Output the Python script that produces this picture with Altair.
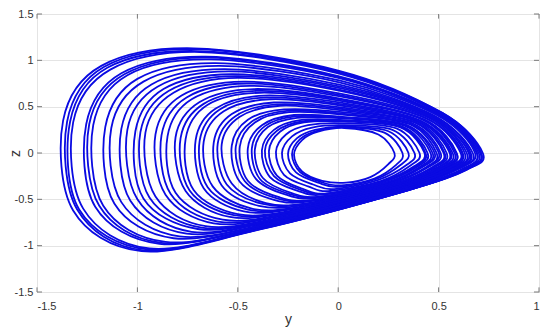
import altair as alt
import pandas as pd

# Axis tick values (y horizontal, z vertical)
Y_TICKS = [-1.5, -1, -0.5, 0, 0.5, 1]
Z_TICKS = [-1.5, -1, -0.5, 0, 0.5, 1, 1.5]

# Trajectory loops, each as (y, z) points going
# right tip -> top -> left side -> bottom band -> back to the tip.
loop01 = [(0.72, 0.00), (0.52, 0.43), (0.00, 0.89), (-0.72, 1.13), (-1.18, 0.94), (-1.37, 0.35), (-1.32, -0.62), (-0.98, -1.06), (-0.40, -0.83), (0.35, -0.40), (0.64, -0.18)]
loop02 = [(0.71, 0.01), (0.52, 0.43), (0.00, 0.88), (-0.71, 1.12), (-1.165, 0.93), (-1.35, 0.34), (-1.30, -0.61), (-0.97, -1.05), (-0.395, -0.825), (0.35, -0.40), (0.64, -0.18)]
loop03 = [(0.71, 0.00), (0.515, 0.425), (0.00, 0.87), (-0.70, 1.10), (-1.15, 0.92), (-1.335, 0.34), (-1.29, -0.61), (-0.95, -1.04), (-0.39, -0.82), (0.35, -0.40), (0.63, -0.18)]
loop04 = [(0.71, -0.01), (0.51, 0.42), (0.00, 0.86), (-0.69, 1.09), (-1.135, 0.90), (-1.32, 0.33), (-1.27, -0.60), (-0.94, -1.03), (-0.385, -0.81), (0.35, -0.40), (0.63, -0.18)]
loop05 = [(0.70, 0.00), (0.50, 0.42), (0.00, 0.83), (-0.66, 1.04), (-1.08, 0.86), (-1.255, 0.31), (-1.21, -0.58), (-0.89, -0.98), (-0.37, -0.79), (0.34, -0.39), (0.62, -0.18)]
loop06 = [(0.69, 0.01), (0.50, 0.415), (0.00, 0.82), (-0.65, 1.03), (-1.065, 0.85), (-1.24, 0.31), (-1.19, -0.57), (-0.88, -0.97), (-0.36, -0.785), (0.34, -0.39), (0.62, -0.18)]
loop07 = [(0.69, 0.00), (0.50, 0.41), (0.00, 0.81), (-0.64, 1.01), (-1.05, 0.84), (-1.22, 0.30), (-1.17, -0.57), (-0.86, -0.96), (-0.355, -0.78), (0.34, -0.39), (0.61, -0.18)]
loop08 = [(0.67, 0.00), (0.48, 0.40), (0.01, 0.76), (-0.59, 0.94), (-0.97, 0.77), (-1.13, 0.27), (-1.08, -0.53), (-0.79, -0.90), (-0.33, -0.75), (0.33, -0.38), (0.60, -0.17)]
loop09 = [(0.66, 0.00), (0.48, 0.40), (0.01, 0.735), (-0.565, 0.905), (-0.93, 0.74), (-1.08, 0.26), (-1.035, -0.515), (-0.755, -0.87), (-0.315, -0.73), (0.32, -0.38), (0.59, -0.17)]
loop10 = [(0.65, 0.00), (0.47, 0.39), (0.01, 0.70), (-0.53, 0.85), (-0.87, 0.69), (-1.01, 0.235), (-0.97, -0.49), (-0.70, -0.82), (-0.295, -0.71), (0.32, -0.38), (0.57, -0.17)]
loop11 = [(0.63, 0.00), (0.46, 0.38), (0.01, 0.67), (-0.50, 0.81), (-0.82, 0.65), (-0.96, 0.22), (-0.91, -0.47), (-0.66, -0.79), (-0.275, -0.69), (0.31, -0.37), (0.56, -0.17)]
loop12 = [(0.62, 0.00), (0.45, 0.38), (0.01, 0.64), (-0.47, 0.77), (-0.78, 0.62), (-0.91, 0.20), (-0.86, -0.45), (-0.62, -0.76), (-0.26, -0.67), (0.31, -0.37), (0.55, -0.17)]
loop13 = [(0.61, 0.00), (0.44, 0.37), (0.01, 0.61), (-0.44, 0.725), (-0.73, 0.58), (-0.85, 0.18), (-0.81, -0.43), (-0.575, -0.72), (-0.245, -0.65), (0.30, -0.36), (0.54, -0.16)]
loop14 = [(0.59, 0.00), (0.43, 0.36), (0.015, 0.585), (-0.42, 0.69), (-0.69, 0.55), (-0.81, 0.17), (-0.76, -0.41), (-0.54, -0.69), (-0.23, -0.63), (0.30, -0.36), (0.53, -0.16)]
loop15 = [(0.58, 0.00), (0.42, 0.36), (0.02, 0.56), (-0.39, 0.65), (-0.65, 0.52), (-0.76, 0.15), (-0.72, -0.40), (-0.50, -0.66), (-0.215, -0.615), (0.29, -0.36), (0.52, -0.16)]
loop16 = [(0.57, 0.00), (0.41, 0.35), (0.02, 0.54), (-0.37, 0.62), (-0.61, 0.48), (-0.71, 0.14), (-0.67, -0.38), (-0.47, -0.63), (-0.20, -0.595), (0.285, -0.35), (0.51, -0.16)]
loop17 = [(0.555, 0.00), (0.40, 0.34), (0.02, 0.51), (-0.34, 0.58), (-0.57, 0.45), (-0.67, 0.12), (-0.625, -0.36), (-0.43, -0.60), (-0.185, -0.58), (0.28, -0.35), (0.49, -0.16)]
loop18 = [(0.54, 0.00), (0.39, 0.34), (0.02, 0.49), (-0.32, 0.545), (-0.53, 0.42), (-0.62, 0.11), (-0.58, -0.35), (-0.395, -0.57), (-0.165, -0.56), (0.27, -0.34), (0.48, -0.155)]
loop19 = [(0.525, 0.00), (0.38, 0.33), (0.02, 0.46), (-0.29, 0.51), (-0.49, 0.39), (-0.58, 0.095), (-0.53, -0.33), (-0.36, -0.54), (-0.15, -0.54), (0.27, -0.34), (0.47, -0.15)]
loop20 = [(0.51, 0.00), (0.37, 0.32), (0.02, 0.44), (-0.27, 0.47), (-0.45, 0.36), (-0.53, 0.08), (-0.49, -0.31), (-0.32, -0.505), (-0.135, -0.52), (0.26, -0.33), (0.45, -0.15)]
loop21 = [(0.49, 0.00), (0.355, 0.31), (0.02, 0.415), (-0.245, 0.44), (-0.415, 0.33), (-0.49, 0.07), (-0.45, -0.30), (-0.29, -0.48), (-0.12, -0.505), (0.25, -0.33), (0.44, -0.15)]
loop22 = [(0.48, 0.00), (0.34, 0.30), (0.02, 0.39), (-0.22, 0.41), (-0.38, 0.30), (-0.45, 0.05), (-0.41, -0.28), (-0.26, -0.45), (-0.10, -0.485), (0.245, -0.32), (0.42, -0.15)]
loop23 = [(0.46, 0.00), (0.33, 0.295), (0.025, 0.375), (-0.205, 0.38), (-0.35, 0.28), (-0.415, 0.04), (-0.375, -0.27), (-0.235, -0.43), (-0.09, -0.47), (0.24, -0.32), (0.41, -0.145)]
loop24 = [(0.445, 0.00), (0.32, 0.285), (0.025, 0.355), (-0.19, 0.355), (-0.32, 0.25), (-0.38, 0.03), (-0.34, -0.26), (-0.205, -0.405), (-0.075, -0.45), (0.23, -0.31), (0.40, -0.14)]
loop25 = [(0.43, 0.00), (0.31, 0.275), (0.03, 0.34), (-0.17, 0.33), (-0.29, 0.23), (-0.345, 0.02), (-0.305, -0.245), (-0.18, -0.385), (-0.055, -0.435), (0.22, -0.305), (0.38, -0.14)]
loop26 = [(0.405, 0.00), (0.29, 0.265), (0.03, 0.32), (-0.15, 0.30), (-0.26, 0.20), (-0.31, 0.01), (-0.27, -0.235), (-0.15, -0.36), (-0.04, -0.41), (0.215, -0.30), (0.36, -0.135)]
loop27 = [(0.38, 0.00), (0.27, 0.25), (0.03, 0.30), (-0.13, 0.275), (-0.23, 0.18), (-0.28, 0.00), (-0.24, -0.22), (-0.125, -0.34), (-0.02, -0.39), (0.20, -0.29), (0.34, -0.13)]
loop28 = [(0.35, 0.00), (0.25, 0.235), (0.03, 0.285), (-0.115, 0.25), (-0.205, 0.16), (-0.25, -0.01), (-0.21, -0.21), (-0.10, -0.32), (0.00, -0.365), (0.19, -0.28), (0.31, -0.13)]
loop29 = [(0.32, 0.00), (0.23, 0.22), (0.03, 0.28), (-0.105, 0.24), (-0.19, 0.15), (-0.23, -0.015), (-0.19, -0.205), (-0.09, -0.31), (0.015, -0.35), (0.18, -0.275), (0.29, -0.125)]
loop30 = [(0.28, 0.00), (0.20, 0.20), (0.03, 0.27), (-0.10, 0.23), (-0.18, 0.14), (-0.22, -0.02), (-0.18, -0.20), (-0.08, -0.30), (0.04, -0.32), (0.16, -0.26), (0.25, -0.12)]
loop31 = [(0.68, 0.01), (0.49, 0.41), (0.01, 0.78), (-0.61, 0.97), (-1.00, 0.80), (-1.16, 0.28), (-1.115, -0.545), (-0.82, -0.92), (-0.34, -0.76), (0.33, -0.39), (0.60, -0.17)]
loop32 = [(0.655, -0.01), (0.47, 0.395), (0.01, 0.715), (-0.545, 0.88), (-0.90, 0.715), (-1.05, 0.25), (-1.00, -0.50), (-0.73, -0.85), (-0.305, -0.72), (0.32, -0.38), (0.58, -0.17)]
loop33 = [(0.64, 0.00), (0.46, 0.39), (0.01, 0.68), (-0.51, 0.83), (-0.845, 0.67), (-0.985, 0.225), (-0.94, -0.48), (-0.68, -0.805), (-0.285, -0.70), (0.315, -0.375), (0.57, -0.17)]
loop34 = [(0.615, 0.01), (0.44, 0.375), (0.01, 0.625), (-0.455, 0.75), (-0.755, 0.60), (-0.88, 0.19), (-0.835, -0.44), (-0.60, -0.74), (-0.255, -0.66), (0.305, -0.365), (0.545, -0.165)]
loop35 = [(0.59, -0.01), (0.425, 0.36), (0.015, 0.575), (-0.405, 0.67), (-0.67, 0.53), (-0.785, 0.16), (-0.74, -0.405), (-0.52, -0.67), (-0.22, -0.625), (0.295, -0.36), (0.525, -0.16)]
loop36 = [(0.56, 0.01), (0.405, 0.345), (0.02, 0.525), (-0.355, 0.60), (-0.59, 0.47), (-0.69, 0.13), (-0.65, -0.37), (-0.45, -0.61), (-0.19, -0.59), (0.28, -0.35), (0.50, -0.16)]
loop37 = [(0.53, 0.00), (0.385, 0.33), (0.02, 0.475), (-0.305, 0.525), (-0.51, 0.40), (-0.60, 0.10), (-0.555, -0.34), (-0.375, -0.55), (-0.16, -0.55), (0.27, -0.34), (0.475, -0.155)]
loop38 = [(0.50, 0.01), (0.36, 0.315), (0.02, 0.425), (-0.255, 0.455), (-0.43, 0.34), (-0.51, 0.07), (-0.465, -0.305), (-0.305, -0.49), (-0.125, -0.51), (0.255, -0.33), (0.445, -0.15)]
loop39 = [(0.47, 0.00), (0.34, 0.30), (0.025, 0.385), (-0.215, 0.395), (-0.365, 0.29), (-0.43, 0.05), (-0.39, -0.28), (-0.245, -0.44), (-0.095, -0.475), (0.24, -0.32), (0.42, -0.145)]
loop40 = [(0.435, 0.00), (0.315, 0.28), (0.025, 0.35), (-0.18, 0.34), (-0.305, 0.24), (-0.365, 0.025), (-0.32, -0.25), (-0.19, -0.395), (-0.065, -0.44), (0.225, -0.31), (0.39, -0.14)]

LOOPS = [loop01, loop02, loop03, loop04, loop05, loop06, loop07, loop08, loop09, loop10,
         loop11, loop12, loop13, loop14, loop15, loop16, loop17, loop18, loop19, loop20,
         loop21, loop22, loop23, loop24, loop25, loop26, loop27, loop28, loop29, loop30,
         loop31, loop32, loop33, loop34, loop35, loop36, loop37, loop38, loop39, loop40]

rows = []
for k, pts in enumerate(LOOPS):
    for i, (yy, zz) in enumerate(pts):
        rows.append({"loop": k, "idx": i, "y": yy, "z": zz})
df = pd.DataFrame(rows)

Y_MIN, Y_MAX = Y_TICKS[0], Y_TICKS[-1]
Z_MIN, Z_MAX = Z_TICKS[0], Z_TICKS[-1]
TY = 0.025  # inward tick length in y units
TZ = 0.05   # inward tick length in z units
tick_rows = []
for v in Y_TICKS:
    tick_rows.append({"x0": v, "x1": v, "y0": Z_MIN, "y1": Z_MIN + TZ})
    tick_rows.append({"x0": v, "x1": v, "y0": Z_MAX, "y1": Z_MAX - TZ})
for v in Z_TICKS:
    tick_rows.append({"x0": Y_MIN, "x1": Y_MIN + TY, "y0": v, "y1": v})
    tick_rows.append({"x0": Y_MAX, "x1": Y_MAX - TY, "y0": v, "y1": v})
ticks_df = pd.DataFrame(tick_rows)

W, H = 502, 278
xscale = alt.Scale(domain=[Y_MIN, Y_MAX], nice=False, zero=False)
zscale = alt.Scale(domain=[Z_MIN, Z_MAX], nice=False, zero=False)

lines = alt.Chart(df).mark_line(
    interpolate="cardinal-closed", color="#0a0ae2", strokeWidth=1.8, clip=True
).encode(
    x=alt.X("y:Q", scale=xscale,
            axis=alt.Axis(values=Y_TICKS, title="y", labelExpr="'' + datum.value",
                          labelPadding=8, titleBaseline="alphabetic", titleY=31)),
    y=alt.Y("z:Q", scale=zscale,
            axis=alt.Axis(values=Z_TICKS, title="z", labelExpr="'' + datum.value",
                          labelPadding=4, titleX=-15, titleY=H / 2)),
    detail="loop:N",
    order="idx:Q",
)

ticks = alt.Chart(ticks_df).mark_rule(color="#7a7a7a", strokeWidth=1).encode(
    x=alt.X("x0:Q", scale=xscale), x2="x1:Q",
    y=alt.Y("y0:Q", scale=zscale), y2="y1:Q",
)

chart = alt.layer(lines, ticks).properties(
    width=W, height=H,
    autosize=alt.AutoSizeParams(type="none"),
    padding={"left": 29, "top": 6, "right": 3, "bottom": 35},
).configure_view(
    stroke="#8a8a8a", strokeWidth=1
).configure_axis(
    grid=True, gridColor="#e4e4e4", gridWidth=1, domain=False, ticks=False,
    labelFont="Liberation Sans", labelFontSize=11, labelColor="#333333",
    titleFont="Liberation Sans", titleFontSize=14, titleFontWeight="normal",
    titleColor="#333333",
)

chart.save("out.html", embed_options={"renderer": "svg", "actions": False})
